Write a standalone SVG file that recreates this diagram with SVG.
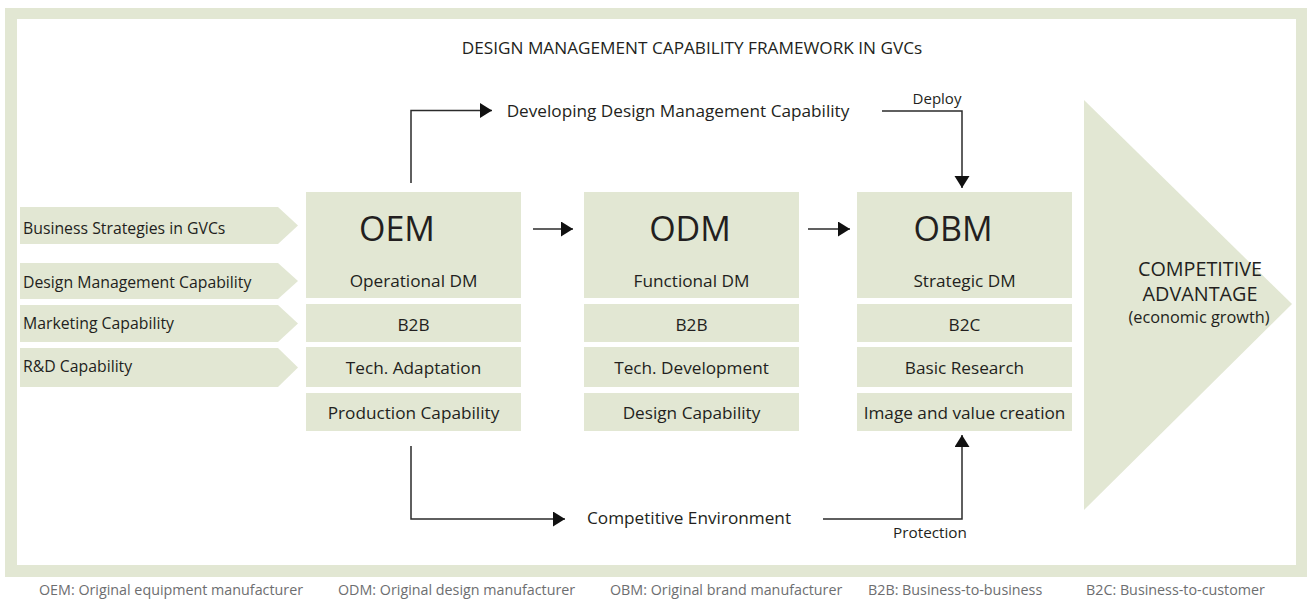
<svg xmlns="http://www.w3.org/2000/svg" width="1308" height="600" viewBox="0 0 1308 600">
<defs>
<style>
.g{fill:#e2e7d3}
.t{font-family:"Open Sans","Noto Sans",sans-serif;fill:#231f20}
.lab{font-size:15.8px}
.box{font-size:17.2px;text-anchor:middle}
.big{font-size:34px;text-anchor:middle}
.cap{font-size:19.8px;text-anchor:middle}
.foot{font-family:"Open Sans","Noto Sans",sans-serif;font-size:14.3px;fill:#6d6e70}
.ln{fill:none;stroke:#2b2b2b;stroke-width:1.5}
</style>
<marker id="ah" markerUnits="userSpaceOnUse" markerWidth="14" markerHeight="16" refX="12" refY="7.5" orient="auto" viewBox="0 0 14 16">
<path d="M0,0 L12,7.5 L0,15 z" fill="#111"/>
</marker>
</defs>
<rect x="5" y="8" width="1302" height="569" class="g"/>
<rect x="17" y="19" width="1279" height="546" fill="#fff"/>
<text class="t" x="692" y="54" font-size="17.2" text-anchor="middle">DESIGN MANAGEMENT CAPABILITY FRAMEWORK IN GVCs</text>

<g id="inputs">
<polygon class="g" points="20,207 278,207 298,225.5 278,244 20,244"/>
<polygon class="g" points="20,263 278,263 298,281 278,299 20,299"/>
<polygon class="g" points="20,305 278,305 298,323.5 278,342 20,342"/>
<polygon class="g" points="20,348 278,348 298,367.5 278,387 20,387"/>
<text class="t lab" x="23" y="234">Business Strategies in GVCs</text>
<text class="t lab" x="23" y="288">Design Management Capability</text>
<text class="t lab" x="23" y="329">Marketing Capability</text>
<text class="t lab" x="23" y="372">R&amp;D Capability</text>
</g>

<g id="oem">
<rect class="g" x="306" y="192" width="215" height="106"/>
<rect class="g" x="306" y="304" width="215" height="38"/>
<rect class="g" x="306" y="347" width="215" height="40"/>
<rect class="g" x="306" y="393" width="215" height="38"/>
<text class="t big" x="397" y="241">OEM</text>
<text class="t box" x="413.5" y="287">Operational DM</text>
<text class="t box" x="413.5" y="331">B2B</text>
<text class="t box" x="413.5" y="374">Tech. Adaptation</text>
<text class="t box" x="413.5" y="419">Production Capability</text>
</g>

<g id="odm">
<rect class="g" x="584" y="192" width="215" height="106"/>
<rect class="g" x="584" y="304" width="215" height="38"/>
<rect class="g" x="584" y="347" width="215" height="40"/>
<rect class="g" x="584" y="393" width="215" height="38"/>
<text class="t big" x="690" y="241">ODM</text>
<text class="t box" x="691.5" y="287">Functional DM</text>
<text class="t box" x="691.5" y="331">B2B</text>
<text class="t box" x="691.5" y="374">Tech. Development</text>
<text class="t box" x="691.5" y="419">Design Capability</text>
</g>

<g id="obm">
<rect class="g" x="857" y="192" width="215" height="106"/>
<rect class="g" x="857" y="304" width="215" height="38"/>
<rect class="g" x="857" y="347" width="215" height="40"/>
<rect class="g" x="857" y="393" width="215" height="38"/>
<text class="t big" x="953" y="241">OBM</text>
<text class="t box" x="964.5" y="287">Strategic DM</text>
<text class="t box" x="964.5" y="331">B2C</text>
<text class="t box" x="964.5" y="374">Basic Research</text>
<text class="t box" x="964.5" y="419">Image and value creation</text>
</g>

<g id="advantage">
<polygon class="g" points="1084,100 1292,304 1084,510"/>
<text class="t cap" x="1200" y="276">COMPETITIVE</text>
<text class="t cap" x="1200" y="301">ADVANTAGE</text>
<text class="t" x="1199" y="323" font-size="16.3" text-anchor="middle">(economic growth)</text>
</g>

<g id="developing">
<text class="t box" x="678" y="117" font-size="18">Developing Design Management Capability</text>
</g>
<g id="environment">
<text class="t box" x="689" y="524" font-size="17.5">Competitive Environment</text>
</g>

<g id="connectors">
<path class="ln" d="M411,183 V110.5 H492" marker-end="url(#ah)"/>
<path class="ln" d="M882,111 H962 V188" marker-end="url(#ah)"/>
<path class="ln" d="M533,229 H573" marker-end="url(#ah)"/>
<path class="ln" d="M808,229 H850" marker-end="url(#ah)"/>
<path class="ln" d="M411,446 V519 H565" marker-end="url(#ah)"/>
<path class="ln" d="M823,519 H962 V435" marker-end="url(#ah)"/>
<text class="t" x="937" y="104" font-size="15" text-anchor="middle">Deploy</text>
<text class="t" x="930" y="538" font-size="15.3" text-anchor="middle">Protection</text>
</g>

<g id="legend">
<text class="foot" x="39" y="595">OEM: Original equipment manufacturer</text>
<text class="foot" x="338" y="595">ODM: Original design manufacturer</text>
<text class="foot" x="610" y="595">OBM: Original brand manufacturer</text>
<text class="foot" x="868" y="595">B2B: Business-to-business</text>
<text class="foot" x="1086" y="595">B2C: Business-to-customer</text>
</g>
</svg>
